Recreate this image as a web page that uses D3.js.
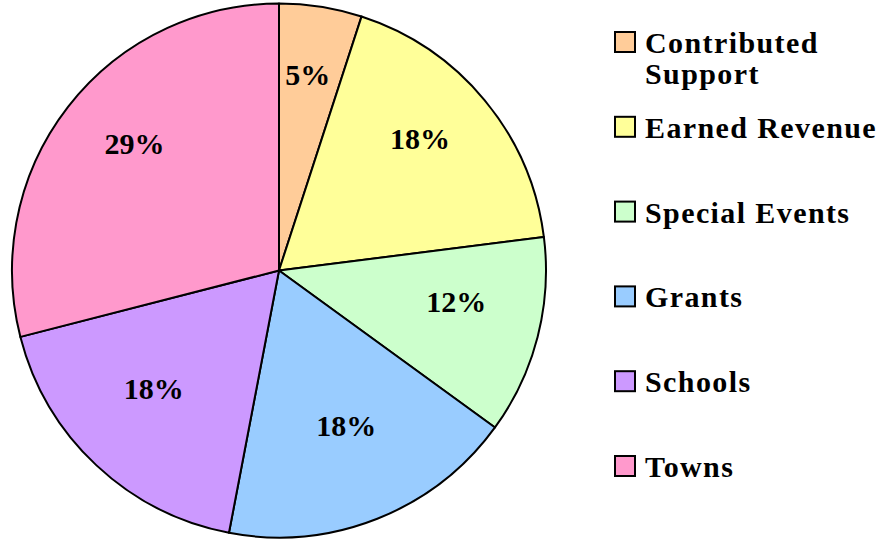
<!DOCTYPE html>
<html>
<head>
<meta charset="utf-8">
<script src="https://cdn.jsdelivr.net/npm/d3@7"></script>
<style>
  body { margin: 0; background: #fff; }
  svg text { font-family: "Palatino Linotype", "Book Antiqua", Palatino, "Liberation Serif", serif; font-weight: bold; }
</style>
</head>
<body>
<div id="grafico"></div>
<script>
// dados do gráfico
const categorias = ["Contributed Support", "Earned Revenue", "Special Events", "Grants", "Schools", "Towns"];
const valores = [5, 18, 12, 18, 18, 29];
const cores = ["#FFCC99", "#FFFF99", "#CCFFCC", "#99CCFF", "#CC99FF", "#FF99CC"];
// legenda: linhas de texto de cada item
const linhasLegenda = [["Contributed", "Support"], ["Earned Revenue"], ["Special Events"], ["Grants"], ["Schools"], ["Towns"]];

const largura = 888;
const altura = 541;
const centro = { x: 279, y: 270.5 };
const raio = 267;

const svg = d3.select("#grafico").append("svg")
    .attr("width", largura)
    .attr("height", altura);

const dados = categorias.map((c, i) => ({ nome: c, valor: valores[i] }));

const pie = d3.pie().value(d => d.valor).sort(null);
const arco = d3.arc().innerRadius(0).outerRadius(raio);
const arcoRotulo = d3.arc().innerRadius(183).outerRadius(183);

const cor = d3.scaleOrdinal().domain(categorias).range(cores);

const g = svg.append("g").attr("transform", `translate(${centro.x},${centro.y})`);

const fatias = pie(dados);

g.selectAll("path")
    .data(fatias)
    .enter()
    .append("path")
    .attr("d", arco)
    .attr("fill", d => cor(d.data.nome))
    .attr("stroke", "#000")
    .attr("stroke-width", 2)
    .attr("stroke-linejoin", "round");

// rótulos de percentagem (um pouco acima do centróide)
const total = d3.sum(valores);
g.selectAll("text.rotulo")
    .data(fatias)
    .enter()
    .append("text")
    .attr("class", "rotulo")
    .attr("transform", d => `translate(${arcoRotulo.centroid(d)})`)
    .attr("text-anchor", "middle")
    .attr("dy", "-0.15em")
    .style("font-size", "30px")
    .text(d => Math.round(d.data.valor / total * 100) + "%");

// legenda
const yLegenda = d3.scalePoint().domain(categorias).range([42, 466]);

const legenda = svg.append("g").selectAll("g")
    .data(categorias)
    .enter()
    .append("g")
    .attr("transform", d => `translate(615,${yLegenda(d)})`);

legenda.append("rect")
    .attr("x", 0)
    .attr("y", -10)
    .attr("width", 20)
    .attr("height", 20)
    .attr("fill", d => cor(d))
    .attr("stroke", "#000")
    .attr("stroke-width", 2);

legenda.each(function(d, i) {
    const t = d3.select(this).append("text")
        .attr("x", 30)
        .attr("y", 11)
        .style("font-size", "30px")
        .style("letter-spacing", "1.4px");
    linhasLegenda[i].forEach((linha, k) => {
        t.append("tspan").attr("x", 30).attr("dy", k === 0 ? 0 : 31).text(linha);
    });
});
</script>
</body>
</html>
